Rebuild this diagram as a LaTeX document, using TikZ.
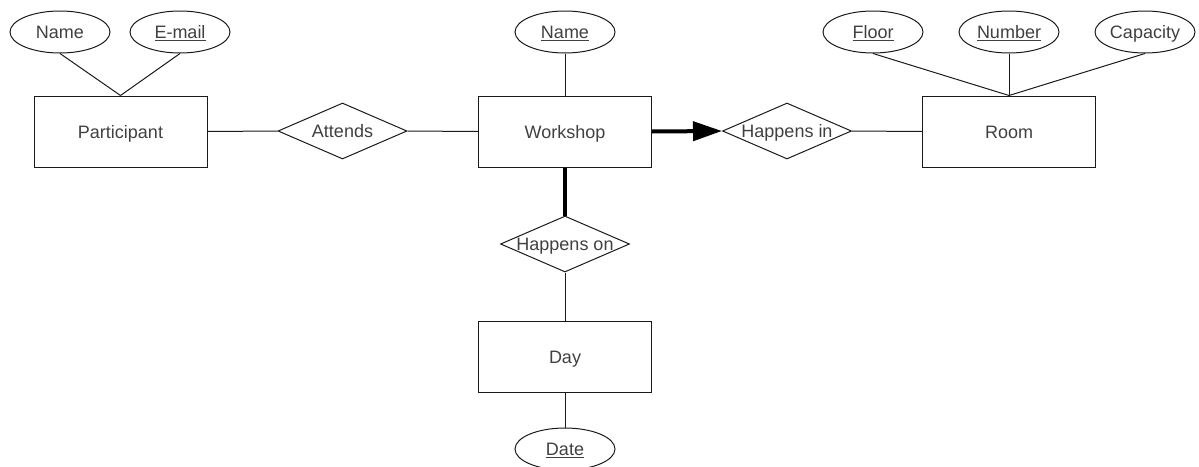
\documentclass[tikz,border=0pt]{standalone}
\usepackage{fontspec}
\setmainfont{Liberation Sans}
\usetikzlibrary{shapes.geometric,arrows.meta}
\definecolor{txt}{HTML}{404040}
\definecolor{ln}{HTML}{1A1A1A}
\begin{document}
\begin{tikzpicture}[x=1pt,y=-1pt,
  lbl/.style={font=\fontsize{18}{22}\selectfont, text=txt, text height=13pt, text depth=0pt, inner sep=0pt},
  entity/.style={draw=ln, line width=1pt, rectangle, minimum width=173pt, minimum height=71pt, inner sep=0pt, label={[lbl]center:#1}},
  attr/.style={draw=ln, line width=1pt, ellipse, minimum width=100pt, minimum height=42pt, inner sep=0pt, label={[lbl]center:#1}},
  rel/.style={draw=ln, line width=1pt, diamond, minimum width=129pt, minimum height=56pt, inner sep=0pt, label={[lbl]center:#1}},
  conn/.style={draw=ln, line width=1pt},
  strong/.style={draw=black, line width=4pt}
]
\useasboundingbox (0,0) rectangle (1199,466);
% entities
\node[entity=Participant] (part) at (120.5,131.5) {};
\node[entity=Workshop] (work) at (565,131.5) {};
\node[entity=Room] (room) at (1009,131.5) {};
\node[entity=Day] (day) at (565,356.5) {};
% attributes
\node[attr=Name] (pname) at (60,32) {};
\node[attr=\underline{E-mail}] (pmail) at (180,32) {};
\node[attr=\underline{Name}] (wname) at (565,32) {};
\node[attr=\underline{Floor}] (rfloor) at (873,32) {};
\node[attr=\underline{Number}] (rnum) at (1009,32) {};
\node[attr=Capacity] (rcap) at (1145,32) {};
\node[attr=\underline{Date}] (ddate) at (565,449) {};
% relationships
\node[rel=Attends] (att) at (342.5,131) {};
\node[rel=Happens in] (hin) at (787,131) {};
\node[rel=Happens on] (hon) at (565,244) {};
% connectors
\draw[conn] (pname.south) -- (part.north);
\draw[conn] (pmail.south) -- (part.north);
\draw[conn] (wname.south) -- (work.north);
\draw[conn] (rfloor.south) -- (room.north);
\draw[conn] (rnum.south) -- (room.north);
\draw[conn] (rcap.south) -- (room.north);
\draw[conn] (day.south) -- (ddate.north);
\draw[conn] (part.east) -- (att.west);
\draw[conn] (att.east) -- (work.west);
\draw[conn] (hin.east) -- (room.west);
\draw[conn] (hon.south) -- (day.north);
\draw[strong, -{Triangle[length=29pt,width=19pt]}] (work.east) -- (hin.west);
\draw[strong] (work.south) -- (hon.north);
\end{tikzpicture}
\end{document}
